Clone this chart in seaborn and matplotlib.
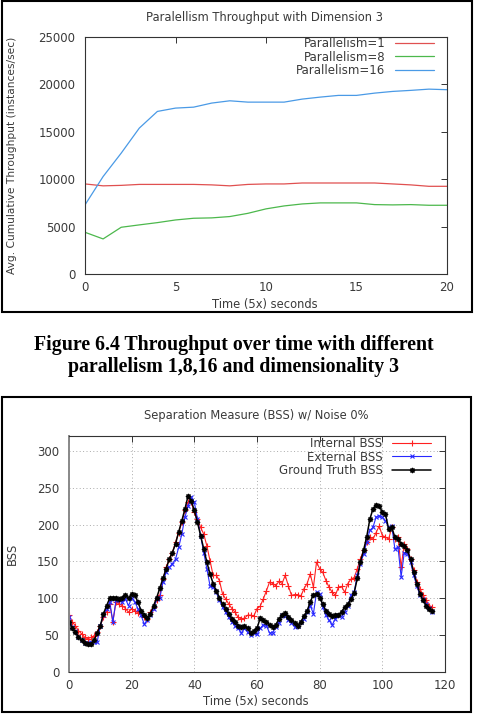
import numpy as np
import pandas as pd
import matplotlib
matplotlib.use("Agg")
import matplotlib.pyplot as plt
import seaborn as sns
from matplotlib.patches import Rectangle

# ---- data: top chart (throughput vs time) ----
time_top = list(range(21))
par1 = [9500, 9300, 9350, 9450, 9450, 9450, 9450, 9400, 9300, 9450, 9500,
        9500, 9600, 9600, 9600, 9600, 9600, 9500, 9400, 9250, 9250]
par8 = [4400, 3700, 4930, 5180, 5420, 5700, 5880, 5920, 6060, 6400, 6870,
        7180, 7390, 7500, 7500, 7500, 7320, 7290, 7320, 7250, 7250]
par16 = [7290, 10280, 12750, 15390, 17150, 17500, 17600, 18030, 18270, 18130, 18130,
         18130, 18450, 18660, 18840, 18840, 19080, 19260, 19370, 19500, 19440]

# ---- data: bottom chart (BSS vs time) ----
time_bss = list(range(117))
internal_bss = [77, 68, 63, 56, 52, 47, 45, 47, 49, 54, 63, 74, 82, 92, 68, 95, 92, 90, 86, 81,
                86, 83, 80, 78, 74, 72, 81, 88, 97, 104, 126, 142, 153, 162, 176, 189, 203, 219, 230, 230,
                217, 208, 196, 187, 171, 151, 131, 131, 124, 106, 99, 92, 86, 81, 74, 72, 73, 77, 77, 76,
                86, 89, 99, 110, 122, 120, 117, 123, 120, 131, 117, 104, 105, 105, 103, 113, 120, 133, 115, 149,
                140, 135, 124, 115, 108, 104, 115, 116, 108, 120, 126, 128, 140, 153, 165, 176, 183, 180, 189, 198,
                185, 183, 180, 196, 180, 183, 142, 174, 167, 153, 138, 122, 113, 104, 97, 90, 88]
external_bss = [75, 61, 55, 48, 43, 40, 40, 41, 41, 41, 63, 77, 86, 95, 68, 97, 98, 95, 99, 90,
                100, 95, 86, 77, 65, 70, 77, 86, 99, 101, 122, 135, 142, 147, 153, 169, 187, 210, 225, 237,
                230, 208, 185, 162, 140, 117, 115, 108, 97, 88, 81, 74, 68, 62, 59, 53, 59, 54, 50, 53,
                51, 59, 64, 63, 53, 53, 61, 67, 77, 76, 70, 67, 61, 63, 68, 72, 81, 90, 79, 108,
                106, 88, 77, 70, 64, 72, 77, 75, 81, 90, 104, 108, 131, 147, 160, 176, 192, 196, 210, 212,
                210, 205, 196, 198, 167, 169, 129, 162, 160, 149, 131, 117, 104, 99, 92, 87, 81]
truth_bss = [68, 60, 54, 48, 43, 40, 38, 38, 43, 53, 63, 79, 90, 100, 101, 100, 99, 101, 104, 100,
             106, 104, 95, 83, 77, 73, 79, 90, 101, 114, 127, 140, 153, 162, 174, 190, 205, 221, 239, 232,
             219, 203, 185, 167, 149, 133, 120, 110, 101, 92, 86, 79, 72, 68, 63, 61, 63, 59, 53, 56,
             59, 73, 70, 68, 64, 61, 64, 72, 77, 80, 74, 71, 67, 63, 68, 76, 83, 95, 105, 106,
             101, 92, 83, 78, 76, 77, 77, 82, 88, 92, 99, 107, 127, 149, 165, 183, 207, 221, 226, 225,
             217, 214, 194, 196, 183, 180, 174, 171, 165, 153, 135, 120, 106, 97, 90, 85, 83]

top_df = pd.DataFrame({"time": time_top, "p1": par1, "p8": par8, "p16": par16})
bss_df = pd.DataFrame({"time": time_bss, "internal": internal_bss,
                       "external": external_bss, "truth": truth_bss})

sns.set_style("white")
plt.rcParams["font.family"] = ["DejaVu Sans"]
TXT = "#3a3a3a"

W, H = 482, 718
fig = plt.figure(figsize=(W / 100, H / 100), dpi=100)


def fx(px):
    return px / W


def fy(py):
    return 1 - py / H


# panel frames
fig.add_artist(Rectangle((fx(2), fy(312)), fx(470), 311 / H, transform=fig.transFigure,
                         fill=False, lw=1.5, ec="black"))
fig.add_artist(Rectangle((fx(2), fy(712)), fx(469), (712 - 397) / H, transform=fig.transFigure,
                         fill=False, lw=1.5, ec="black"))

# ---------------- top chart ----------------
ax1 = fig.add_axes([fx(85), fy(274), fx(447 - 85), (274 - 37) / H])
sns.lineplot(data=top_df, x="time", y="p1", ax=ax1, color="#e05050", lw=0.9, label="Parallelism=1")
sns.lineplot(data=top_df, x="time", y="p8", ax=ax1, color="#4cb84c", lw=0.9, label="Parallelism=8")
sns.lineplot(data=top_df, x="time", y="p16", ax=ax1, color="#4a9ae6", lw=0.9, label="Parallelism=16")
ax1.set_xlim(0, 20)
ax1.set_ylim(0, 25000)
ax1.set_xticks([0, 5, 10, 15, 20])
ax1.set_yticks([0, 5000, 10000, 15000, 20000, 25000])
ax1.set_xlabel("")
ax1.set_ylabel("")
ax1.legend(loc="upper right", bbox_to_anchor=(fx(434), fy(37)), bbox_transform=fig.transFigure,
           frameon=False, markerfirst=False, fontsize=8.5, handlelength=3.3, handletextpad=0.8,
           labelspacing=0.05, borderpad=0, borderaxespad=0, labelcolor=TXT)
fig.text(fx(265), fy(18), "Paralellism Throughput with Dimension 3", ha="center", va="center",
         fontsize=8.3, color=TXT)
fig.text(fx(265), fy(304), "Time (5x) seconds", ha="center", va="center", fontsize=8.3, color=TXT)
fig.text(fx(12), fy(155), "Avg. Cumulative Throughput (instances/sec)", ha="center", va="center",
         rotation=90, fontsize=7.7, color=TXT)

# ---------------- bottom chart ----------------
ax2 = fig.add_axes([fx(69), fy(672), fx(445 - 69), (672 - 436) / H])
ax2.grid(True, ls=(0, (1, 2.5)), color="#aaaaaa", lw=0.7)
sns.lineplot(data=bss_df, x="time", y="internal", ax=ax2, color="#ff2020", lw=0.8,
             marker="+", markersize=4.5, markeredgewidth=0.8, markeredgecolor="#ff2020",
             label="Internal BSS")
sns.lineplot(data=bss_df, x="time", y="external", ax=ax2, color="#2828ff", lw=0.8,
             marker="x", markersize=3.5, markeredgewidth=0.8, markeredgecolor="#2828ff",
             label="External BSS")
sns.lineplot(data=bss_df, x="time", y="truth", ax=ax2, color="black", lw=1.1,
             marker=(8, 2, 0), markersize=3.8, markeredgewidth=0.8, markeredgecolor="black",
             label="Ground Truth BSS")
ax2.set_xlim(0, 120)
ax2.set_ylim(0, 320)
ax2.set_xticks([0, 20, 40, 60, 80, 100, 120])
ax2.set_yticks([0, 50, 100, 150, 200, 250, 300])
ax2.set_xlabel("")
ax2.set_ylabel("")
ax2.legend(loc="upper right", bbox_to_anchor=(fx(431), fy(437)), bbox_transform=fig.transFigure,
           frameon=False, markerfirst=False, fontsize=8.5, handlelength=3.3, handletextpad=0.8,
           labelspacing=0.05, borderpad=0, borderaxespad=0, labelcolor=TXT, numpoints=1)
fig.text(fx(256), fy(416), "Separation Measure (BSS) w/ Noise 0%", ha="center", va="center",
         fontsize=8.3, color=TXT)
fig.text(fx(256), fy(702), "Time (5x) seconds", ha="center", va="center", fontsize=8.3, color=TXT)
fig.text(fx(12), fy(554), "BSS", ha="center", va="center", rotation=90, fontsize=8.3, color=TXT)

for ax in (ax1, ax2):
    ax.tick_params(direction="in", length=4, width=0.7, top=True, right=True,
                   labelsize=8.5, labelcolor=TXT, colors="#333333", pad=5)
    ax.tick_params(axis="y", pad=7)
    for s in ax.spines.values():
        s.set_color("#333333")
        s.set_linewidth(0.8)
ax2.spines["left"].set_color("#888888")
ax2.spines["left"].set_linewidth(1.4)

# caption
fig.text(fx(234), fy(345), "Figure 6.4 Throughput over time with different", ha="center", va="center",
         family="Liberation Serif", weight="bold", fontsize=14.3, color="black")
fig.text(fx(234), fy(367), "parallelism 1,8,16 and dimensionality 3", ha="center", va="center",
         family="Liberation Serif", weight="bold", fontsize=14.3, color="black")

fig.savefig("out.png", dpi=100)
